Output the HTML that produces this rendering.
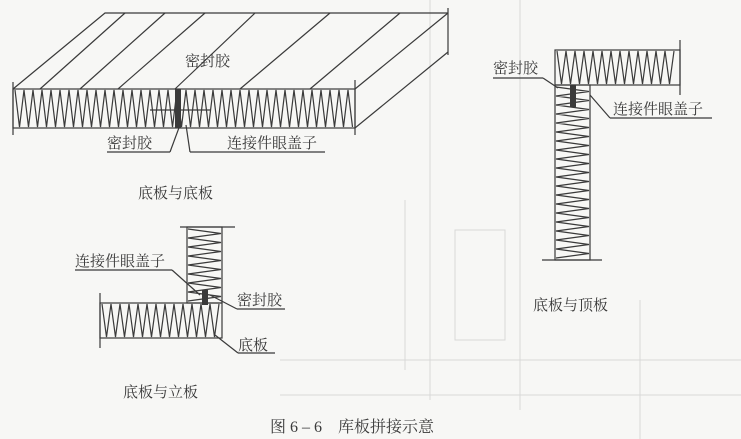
<!DOCTYPE html>
<html><head><meta charset="utf-8"><style>
html,body{margin:0;padding:0;background:#f7f7f5}
svg{display:block}
text{font-family:"Liberation Serif","Noto Serif CJK SC",serif;fill:#3a3a3a;font-size:15px}
</style></head><body>
<svg id="s" width="741" height="439" viewBox="0 0 741 439" xmlns="http://www.w3.org/2000/svg">
<g stroke="#d8d8d8" stroke-width="1" fill="none">
<line x1="430" y1="0" x2="430" y2="400"/><line x1="405" y1="200" x2="405" y2="370"/>
<line x1="520" y1="0" x2="520" y2="410"/><line x1="640" y1="300" x2="640" y2="439"/>
<line x1="280" y1="360" x2="741" y2="360"/><line x1="280" y1="395" x2="741" y2="395"/>
<rect x="455" y="230" width="50" height="110"/>
</g>
<g id="d" stroke="#3a3a3a" stroke-width="1.2" fill="none">
<polyline points="13,89 105,13 448,13"/>
<line x1="355" y1="89" x2="448" y2="13"/>
<line x1="355" y1="128" x2="448" y2="52"/>
<rect x="13" y="89" width="342" height="39"/>
<line x1="13" y1="82" x2="13" y2="135"/><line x1="355" y1="80" x2="355" y2="135"/>
<line x1="448" y1="8" x2="448" y2="55"/>
<line x1="107" y1="152" x2="170" y2="152"/><line x1="170" y1="152" x2="180" y2="125"/>
<line x1="190" y1="152" x2="325" y2="152"/><line x1="190" y1="152" x2="186" y2="125"/>
<line x1="150" y1="110" x2="210" y2="110"/>
<rect x="187" y="227" width="35" height="76"/>
<rect x="100" y="303" width="122" height="35"/>
<line x1="180" y1="227" x2="235" y2="227"/><line x1="100" y1="293" x2="100" y2="348"/>
<line x1="75" y1="270" x2="172" y2="270"/><line x1="172" y1="270" x2="200" y2="295"/>
<line x1="237" y1="309" x2="285" y2="309"/><line x1="237" y1="309" x2="210" y2="295"/>
<line x1="238" y1="353" x2="275" y2="353"/><line x1="238" y1="353" x2="215" y2="335"/>
<rect x="555" y="50" width="125" height="35"/>
<rect x="555" y="85" width="35" height="175"/>
<line x1="680" y1="40" x2="680" y2="95"/><line x1="542" y1="260" x2="602" y2="260"/>
<line x1="493" y1="78" x2="543" y2="78"/><line x1="543" y1="78" x2="558" y2="88"/>
<line x1="610" y1="118" x2="712" y2="118"/><line x1="610" y1="118" x2="590" y2="95"/>
</g>
<g fill="#3a3a3a">
<rect x="175" y="89" width="6" height="39"/>
<rect x="202" y="290" width="6" height="15"/>
<rect x="570" y="85" width="6" height="22"/>
</g>
<text x="185" y="66">密封胶</text>
<text x="107" y="148">密封胶</text>
<text x="227" y="148">连接件眼盖子</text>
<text x="138" y="198">底板与底板</text>
<text x="75" y="266">连接件眼盖子</text>
<text x="237" y="305">密封胶</text>
<text x="238" y="350">底板</text>
<text x="123" y="397">底板与立板</text>
<text x="270" y="432" style="font-size:16px">图 6 – 6　库板拼接示意</text>
<text x="493" y="73">密封胶</text>
<text x="613" y="114">连接件眼盖子</text>
<text x="533" y="310">底板与顶板</text>
</svg>
<script>
var d=document.getElementById('d'),ns='http://www.w3.org/2000/svg';
function pl(p){var e=document.createElementNS(ns,'polyline');e.setAttribute('points',p);d.appendChild(e);}
function zh(x0,x1,y0,y1,st){var p=[],i=0;for(var x=x0;x<=x1;x+=st/2,i++)p.push(x+','+(i%2?y1:y0));pl(p.join(' '));}
function zv(y0,y1,x0,x1,st){var p=[],i=0;for(var y=y0;y<=y1;y+=st/2,i++)p.push((i%2?x1:x0)+','+y);pl(p.join(' '));}
zh(15,353,90,127,9);
zh(102,220,304,337,9);zv(229,301,188,221,9);
zh(557,678,51,84,9);zv(87,258,556,589,9);
[[40,125],[80,165],[118,205],[175,255],[240,330],[310,400]].forEach(function(a){pl(a[0]+',89 '+a[1]+',13');});
</script>
</body></html>
